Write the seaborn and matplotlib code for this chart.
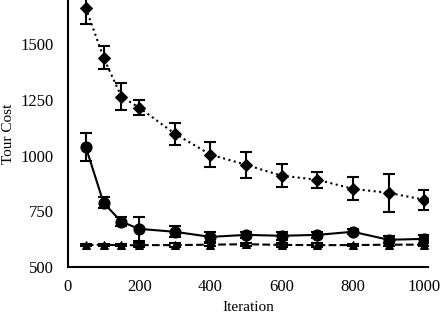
import matplotlib
matplotlib.use("Agg")
import matplotlib.pyplot as plt
import seaborn as sns
import pandas as pd

iterations = [50, 100, 150, 200, 300, 400, 500, 600, 700, 800, 900, 1000]
diamond_cost = [1665, 1441, 1266, 1216, 1099, 1005, 959, 910, 892, 851, 833, 802]
diamond_err = [75, 50, 62, 35, 50, 55, 58, 52, 36, 52, 84, 45]
circle_cost = [1040, 788, 703, 671, 658, 635, 644, 640, 644, 658, 622, 626]
circle_err = [62, 25, 20, 55, 25, 22, 15, 18, 15, 12, 15, 18]
triangle_cost = [598, 600, 597, 598, 598, 600, 602, 599, 598, 598, 600, 600]
triangle_err = [6, 5, 5, 8, 8, 8, 6, 8, 8, 5, 8, 8]

sns.set_style("ticks")
plt.rcParams['font.family'] = ['Liberation Serif', 'DejaVu Serif']
plt.rcParams['text.color'] = 'black'
plt.rcParams['axes.labelcolor'] = 'black'
plt.rcParams['xtick.color'] = 'black'
plt.rcParams['ytick.color'] = 'black'

fig = plt.figure(figsize=(4.44, 3.17), dpi=100)
ax = fig.add_axes([0.153, 0.158, 0.812, 0.842])

series = [
    (diamond_cost, diamond_err, 'D', ':', 6),
    (circle_cost, circle_err, 'o', '-', 8),
    (triangle_cost, triangle_err, '^', '--', 6),
]
for cost, err, mk, ls, ms in series:
    df = pd.DataFrame({"Iteration": iterations, "Cost": cost})
    ax.errorbar(iterations, cost, yerr=err, fmt='none', ecolor='black',
                elinewidth=1.5, capsize=4, capthick=1.5, zorder=2)
    sns.lineplot(data=df, x="Iteration", y="Cost", ax=ax, color='black',
                 linestyle=ls, linewidth=1.5, marker=mk, markersize=ms,
                 markeredgecolor='black', markerfacecolor='black', zorder=3)

ax.set_xlim(0, 1012)
ax.set_ylim(500, 1700)
ax.set_xticks([0, 200, 400, 600, 800, 1000])
ax.set_yticks([500, 750, 1000, 1250, 1500])
ax.set_xlabel("Iteration", fontsize=11, color='black', labelpad=4)
ax.set_ylabel("Tour Cost", fontsize=11, color='black', labelpad=4)
ax.tick_params(axis='x', labelsize=12, length=0, pad=9, labelcolor='black')
ax.tick_params(axis='y', labelsize=12, length=0, pad=10, labelcolor='black')
for s in ['top', 'right']:
    ax.spines[s].set_visible(False)
for s in ['left', 'bottom']:
    ax.spines[s].set_linewidth(1.5)
    ax.spines[s].set_color('black')

fig.savefig("out.png", dpi=100)
